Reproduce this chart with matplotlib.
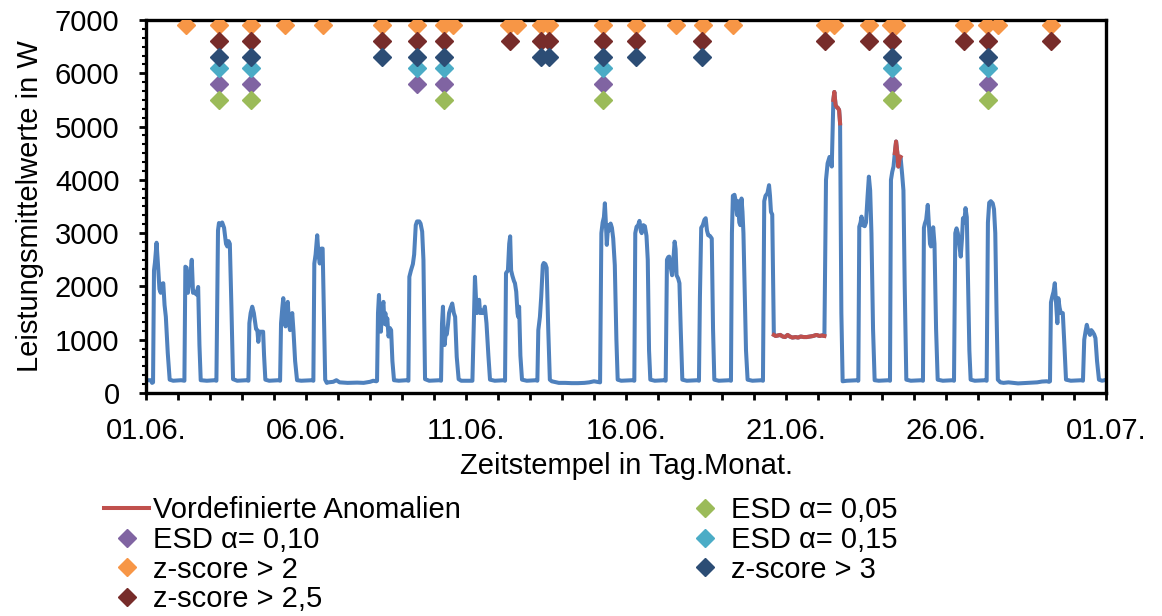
#!/usr/bin/env python3
"""Leistungsmittelwerte Juni mit vordefinierten Anomalien und Detektor-Treffern."""

import numpy as np
import matplotlib
matplotlib.use("Agg")
import matplotlib.pyplot as plt
from matplotlib.ticker import MultipleLocator, FixedLocator, FixedFormatter

plt.rcParams['font.family'] = ['Liberation Sans', 'DejaVu Sans']

# Zeitstempel in Tagen ab 01.06. 00:00 und zugehoerige Leistungsmittelwerte in W
zeit_tage = [
    0.00, 0.15, 0.19, 0.22, 0.25, 0.28, 0.33, 0.37, 0.42, 0.46, 0.50, 0.54, 0.58, 0.62, 0.68, 0.74, 0.85, 1.10,
    1.20, 1.23, 1.27, 1.31, 1.36, 1.40, 1.43, 1.47, 1.52, 1.57, 1.63, 1.67, 1.71, 1.90, 2.15,
    2.20, 2.25, 2.28, 2.33, 2.38, 2.44, 2.50, 2.54, 2.58, 2.62, 2.67, 2.72, 2.85, 3.15,
    3.20, 3.23, 3.27, 3.32, 3.37, 3.44, 3.48, 3.51, 3.54, 3.66, 3.69, 3.73, 3.85, 4.15,
    4.19, 4.22, 4.26, 4.29, 4.32, 4.36, 4.40, 4.43, 4.47, 4.50, 4.54, 4.57, 4.61, 4.66, 4.72, 4.85, 5.20,
    5.23, 5.26, 5.30, 5.35, 5.39, 5.43, 5.48, 5.52, 5.56, 5.60, 5.65,
    5.70, 5.85, 5.95, 6.05, 6.30, 6.60, 6.80, 7.00, 7.10, 7.20,
    7.22, 7.25, 7.28, 7.31, 7.34, 7.38, 7.42, 7.45, 7.48, 7.51, 7.54, 7.58, 7.62, 7.66, 7.70, 7.75, 7.90, 8.15,
    8.20, 8.23, 8.28, 8.34, 8.38, 8.43, 8.47, 8.54, 8.58, 8.63, 8.67, 8.72, 8.85, 9.19,
    9.22, 9.25, 9.28, 9.30, 9.33, 9.37, 9.40, 9.44, 9.47, 9.52, 9.57, 9.62, 9.66, 9.71, 9.77, 9.85,
    10.20, 10.25, 10.28, 10.31, 10.34, 10.38, 10.41, 10.44, 10.48, 10.52, 10.56, 10.59, 10.64, 10.70, 10.75, 10.90, 11.20,
    11.22, 11.25, 11.31, 11.35, 11.38, 11.41, 11.45, 11.50, 11.53, 11.57, 11.61, 11.63, 11.66, 11.70, 11.75, 11.90, 12.20,
    12.23, 12.26, 12.31, 12.35, 12.40, 12.43, 12.48, 12.52, 12.57, 12.62, 12.68,
    12.75, 12.90, 13.10, 13.30, 13.50, 13.70, 13.85, 14.00, 14.10, 14.19,
    14.23, 14.27, 14.31, 14.34, 14.37, 14.40, 14.44, 14.47, 14.52, 14.56, 14.60, 14.65, 14.70, 14.74, 14.85, 15.20,
    15.26, 15.29, 15.33, 15.38, 15.42, 15.46, 15.49, 15.54, 15.59, 15.64, 15.68, 15.72, 15.76, 15.90, 16.20,
    16.24, 16.28, 16.32, 16.35, 16.40, 16.44, 16.48, 16.52, 16.55, 16.58, 16.63, 16.67, 16.71, 16.76, 16.90, 17.25,
    17.28, 17.31, 17.35, 17.40, 17.45, 17.49, 17.53, 17.57, 17.62, 17.68, 17.72, 17.76, 17.90, 18.25,
    18.28, 18.31, 18.34, 18.39, 18.43, 18.47, 18.50, 18.54, 18.57, 18.61, 18.64, 18.67, 18.70, 18.75, 18.80, 18.95, 19.25,
    19.28, 19.32, 19.36, 19.42, 19.47, 19.50, 19.53, 19.57, 19.62,
    19.68, 19.75, 19.82, 19.90, 19.97, 20.05, 20.12, 20.20, 20.30, 20.38, 20.46, 20.55, 20.65, 20.75, 20.85, 20.95, 21.05, 21.12, 21.20,
    21.25, 21.30, 21.36, 21.40, 21.43, 21.48, 21.51, 21.55, 21.58, 21.62, 21.66, 21.69, 21.73, 21.77, 21.90, 22.25,
    22.26, 22.29, 22.33, 22.36, 22.40, 22.46, 22.50, 22.55, 22.59, 22.63, 22.67, 22.72, 22.77, 22.90, 23.22,
    23.25, 23.28, 23.32, 23.36, 23.40, 23.44, 23.48, 23.51, 23.55, 23.58, 23.63, 23.67, 23.71, 23.76, 23.90, 24.25,
    24.28, 24.31, 24.34, 24.38, 24.43, 24.47, 24.50, 24.53, 24.57, 24.60, 24.64, 24.69, 24.74, 24.90, 25.22,
    25.25, 25.29, 25.33, 25.37, 25.41, 25.46, 25.50, 25.53, 25.57, 25.61, 25.65, 25.69, 25.73, 25.77, 25.90, 26.24,
    26.27, 26.31, 26.35, 26.40, 26.46, 26.50, 26.54, 26.58, 26.62, 26.70,
    26.80, 26.95, 27.10, 27.25, 27.40, 27.55, 27.70, 27.85, 28.00, 28.15, 28.22,
    28.25, 28.28, 28.32, 28.36, 28.40, 28.44, 28.48, 28.51, 28.55, 28.59, 28.65, 28.70, 28.75, 28.90, 29.25,
    29.28, 29.32, 29.36, 29.40, 29.45, 29.50, 29.54, 29.58, 29.63, 29.67, 29.72, 29.78, 29.88, 29.95,
]
leistung_w = [
    240, 240, 190, 200, 2300, 2450, 2820, 2450, 1950, 1880, 2050, 2060, 1650, 1430, 750, 250, 230, 240,
    230, 2370, 2350, 1880, 2100, 2300, 2500, 1880, 1900, 1850, 1990, 900, 240, 230, 240,
    230, 3050, 3190, 3150, 3200, 3100, 2800, 2750, 2850, 2800, 1600, 260, 230, 240,
    230, 1310, 1500, 1620, 1500, 1200, 1180, 960, 1150, 1150, 700, 250, 230, 240,
    230, 1310, 1600, 1780, 1500, 1250, 1500, 1710, 1300, 1180, 1400, 1500, 1150, 600, 240, 230, 240,
    230, 2430, 2600, 2960, 2600, 2430, 2710, 2710, 1500, 250, 190,
    200, 210, 240, 200, 190, 195, 190, 210, 230, 220,
    230, 1500, 1840, 1300, 1150, 1600, 1710, 1300, 1500, 1280, 1400, 1060, 1220, 1180, 600, 240, 230, 240,
    230, 2180, 2300, 2420, 2600, 3150, 3220, 3220, 3180, 3030, 2500, 260, 230, 240,
    230, 1300, 1620, 1200, 900, 1150, 1100, 1300, 1500, 1600, 1680, 1500, 1430, 680, 260, 230,
    230, 1500, 2180, 1800, 1500, 1700, 1750, 1500, 1550, 1500, 1550, 1620, 1310, 700, 250, 230, 240,
    230, 2250, 2300, 2800, 2940, 2300, 2200, 2100, 2060, 1900, 1500, 1430, 1620, 700, 250, 230, 240,
    230, 1180, 1430, 1800, 2400, 2440, 2420, 2350, 1200, 250, 220,
    210, 190, 190, 185, 185, 190, 200, 220, 210, 200,
    3000, 3200, 3300, 3560, 3200, 2780, 3150, 3050, 3180, 3100, 2900, 2400, 1000, 250, 230, 240,
    230, 3000, 3120, 3150, 3230, 3050, 3000, 3150, 3130, 2950, 2500, 800, 250, 230, 240,
    230, 2500, 2550, 2560, 2350, 2210, 2500, 2840, 2700, 2210, 2150, 2060, 1200, 250, 230, 240,
    230, 1800, 3100, 3150, 3250, 3280, 3050, 2960, 2950, 2900, 1200, 250, 230, 240,
    230, 3000, 3700, 3720, 3600, 3340, 3600, 3200, 3150, 3650, 3400, 3000, 2200, 800, 250, 230, 240,
    230, 3600, 3700, 3750, 3900, 3700, 3400, 3350, 1090,
    1070, 1080, 1090, 1060, 1050, 1090, 1060, 1040, 1050, 1040, 1060, 1050, 1050, 1060, 1070, 1090, 1070, 1080, 1070,
    4000, 4310, 4430, 4400, 4250, 5500, 5650, 5400, 5370, 5350, 5310, 5060, 1500, 220, 230, 240,
    230, 3120, 3200, 3310, 3150, 3130, 3200, 3700, 4060, 3800, 3000, 1200, 240, 230, 240,
    230, 4000, 4150, 4250, 4500, 4720, 4500, 4250, 4400, 4430, 4100, 3800, 2000, 250, 230, 240,
    230, 3100, 3180, 3250, 3530, 3100, 2800, 2750, 3000, 3110, 2800, 1200, 250, 230, 240,
    230, 3000, 3090, 3000, 2800, 2560, 2900, 3280, 3200, 3470, 3300, 2000, 800, 250, 230, 240,
    230, 3200, 3570, 3600, 3560, 3450, 3000, 1500, 250, 200,
    190, 200, 190, 180, 185, 190, 195, 200, 215, 220, 210,
    220, 1700, 1810, 1900, 2060, 1700, 1310, 1780, 1600, 1500, 1500, 900, 250, 230, 240,
    230, 1000, 1150, 1280, 1150, 1090, 1180, 1150, 1100, 1030, 600, 250, 230, 240,
]

# vordefinierte Anomalien als Zeitfenster (Tage)
anomalie_fenster = [(19.62, 21.20), (21.48, 21.69), (23.40, 23.58)]

# Treffer der Detektoren (Tage) und die Hoehe, auf der sie eingetragen werden
esd_010_tage = [2.28, 3.28, 8.47, 9.31, 14.28, 23.31, 26.31]
esd_005_tage = [2.28, 3.28, 9.31, 14.28, 23.31, 26.31]
esd_015_tage = [2.28, 3.28, 8.47, 9.31, 14.28, 23.31, 26.31]
z2_tage = [1.25, 2.28, 3.28, 4.34, 5.53, 7.38, 8.47, 9.31, 9.59, 11.34, 11.59, 12.34, 12.59,
           14.28, 15.31, 16.56, 17.41, 18.34, 21.22, 21.50, 22.59, 23.28, 23.44, 25.56,
           26.28, 26.63, 28.28]
z25_tage = [2.28, 3.28, 7.38, 8.47, 9.31, 11.38, 12.34, 12.59, 14.28, 15.31, 17.38, 21.22,
            22.59, 23.31, 25.56, 26.31, 28.28]
z3_tage = [2.28, 3.28, 7.38, 8.47, 9.31, 12.34, 12.59, 14.28, 15.31, 17.38, 23.31, 26.31]

esd_010_hoehe = 5800
esd_005_hoehe = 5500
esd_015_hoehe = 6100
z2_hoehe = 6900
z25_hoehe = 6600
z3_hoehe = 6300

x_tick_tage = [0, 5, 10, 15, 20, 25, 30]
x_tick_labels = ['01.06.', '06.06.', '11.06.', '16.06.', '21.06.', '26.06.', '01.07.']


def main():
    fs = 21
    fig = plt.figure(figsize=(11.62, 6.16), dpi=100)
    ax = fig.add_axes([146 / 1162, 1 - 393 / 616, 960 / 1162, 373 / 616])

    t = np.array(zeit_tage)
    w = np.array(leistung_w)

    ax.plot(t, w, color='#4F81BD', lw=2.9, solid_joinstyle='round', zorder=2)

    rot_linie = None
    for start, ende in anomalie_fenster:
        sel = (t >= start) & (t <= ende)
        rot_linie, = ax.plot(t[sel], w[sel], color='#C0504D', lw=2.9,
                             solid_joinstyle='round', zorder=3)

    serien = [
        (esd_010_tage, esd_010_hoehe, '#8064A2', 'ESD α= 0,10'),
        (z2_tage, z2_hoehe, '#F79646', 'z-score > 2'),
        (z25_tage, z25_hoehe, '#772C2A', 'z-score > 2,5'),
        (esd_005_tage, esd_005_hoehe, '#9BBB59', 'ESD α= 0,05'),
        (esd_015_tage, esd_015_hoehe, '#4BACC6', 'ESD α= 0,15'),
        (z3_tage, z3_hoehe, '#2C4D75', 'z-score > 3'),
    ]
    handles = [rot_linie]
    labels = ['Vordefinierte Anomalien']
    for tage, hoehe, farbe, name in serien:
        h, = ax.plot(tage, [hoehe] * len(tage), ls='none', marker='D', ms=9.2,
                     color=farbe, mec=farbe, zorder=4)
        handles.append(h)
        labels.append(name)

    ax.set_xlim(0, 30)
    ax.set_ylim(0, 7000)
    ax.xaxis.set_major_locator(FixedLocator(x_tick_tage))
    ax.xaxis.set_major_formatter(FixedFormatter(x_tick_labels))
    ax.xaxis.set_minor_locator(MultipleLocator(1))
    ax.yaxis.set_major_locator(MultipleLocator(1000))
    ax.yaxis.set_minor_locator(MultipleLocator(1000 / 6))

    ax.tick_params(axis='both', which='major', direction='out', length=5, width=2,
                   labelsize=fs)
    ax.tick_params(axis='x', which='major', pad=12)
    ax.tick_params(axis='y', which='major', pad=14)
    ax.tick_params(axis='x', which='minor', direction='out', length=5, width=2)
    ax.tick_params(axis='y', which='minor', direction='out', length=3, width=1.5)
    for spine in ax.spines.values():
        spine.set_linewidth(2.4)

    ax.set_xlabel('Zeitstempel in Tag.Monat.', fontsize=fs, labelpad=5)
    ax.set_ylabel('Leistungsmittelwerte in W', fontsize=fs, labelpad=8)

    fig.legend(handles, labels, ncol=2, loc='upper left',
               bbox_to_anchor=(104 / 1162, 1 - 496 / 616), frameon=False,
               fontsize=fs, borderpad=0, borderaxespad=0, handlelength=1.55,
               handletextpad=0.12, columnspacing=7.6, labelspacing=0.06,
               numpoints=1)

    fig.savefig('out.png', dpi=100)


if __name__ == "__main__":
    main()
